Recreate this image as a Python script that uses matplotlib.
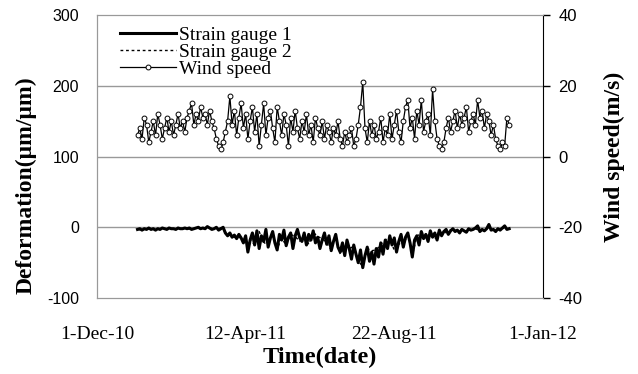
import numpy as np
import pandas as pd
import matplotlib
matplotlib.use('Agg')
import matplotlib.pyplot as plt
import matplotlib.dates as mdates

plt.rcParams['axes.unicode_minus'] = False

# readings every 2 days, 6-Jan-2011 .. 2-Dec-2011
dates = pd.date_range('2011-01-06', periods=166, freq='2D')
dates2 = pd.date_range('2011-01-06', periods=83, freq='4D')

wind = [6, 8, 5, 11, 9, 4, 7, 10, 6, 12,
        9, 5, 8, 11, 7, 10, 6, 9, 12, 8,
        10, 7, 11, 13, 15, 9, 12, 10, 14, 11,
        12, 9, 13, 10, 8, 5, 3, 2, 4, 7,
        10, 17, 9, 13, 6, 11, 15, 8, 12, 5,
        10, 14, 7, 12, 3, 9, 15, 6, 11, 13,
        8, 4, 14, 10, 6, 12, 9, 3, 11, 7,
        13, 8, 5, 10, 7, 12, 6, 9, 4, 11,
        8, 6, 10, 5, 9, 7, 4, 8, 6, 10,
        5, 3, 7, 4, 6, 8, 3, 5, 9, 14,
        21, 8, 4, 10, 6, 9, 5, 7, 11, 4,
        8, 6, 12, 5, 9, 13, 7, 4, 10, 14,
        16, 8, 11, 5, 13, 9, 16, 7, 10, 12,
        6, 19, 10, 5, 3, 2, 4, 8, 11, 7,
        10, 13, 8, 12, 9, 11, 14, 7, 10, 12,
        9, 16, 11, 13, 8, 12, 10, 6, 9, 5,
        3, 2, 4, 3, 11, 9]

strain1 = [-3, -2, -4, -2, -3, -1, -3, -2, -4, -2,
           -3, -1, -2, -3, -1, -2, -2, -3, -1, -2,
           -2, -1, -2, -1, -3, -2, -1, 0, -2, -1,
           -2, 1, -1, -3, -2, 0, -4, -2, 0, -8,
           -12, -8, -14, -11, -16, -10, -15, -22, -12, -35,
           -18, -8, -25, -5, -30, -12, -20, -3, -28, -15,
           -6, -22, -32, -10, -18, -4, -26, -14, -8, -30,
           -12, -3, -15, -20, -8, -25, -10, -18, -5, -22,
           -14, -30, -18, -8, -24, -12, -33, -20, -10, -28,
           -35, -22, -40, -18, -30, -45, -25, -38, -50, -32,
           -57, -40, -28, -48, -35, -52, -30, -42, -22, -38,
           -18, -30, -12, -25, -15, -35, -20, -10, -28, -14,
           -8, -22, -42, -18, -12, -25, -6, -16, -10, -20,
           -5, -14, -8, -18, -4, -12, -6, -3, -10, -5,
           -2, -6, -4, -8, -3, -5, -7, -2, -4, -3,
           -1, 2, -6, -3, -5, -2, 4, -4, -3, -6,
           -2, -4, -1, 2, -3, -2]

strain2 = [-3, -4, -2, -3, -4, -3, -2, -2, -2, -2,
           -2, -2, -3, -1, -2, -2, -1, -2, 0, -3,
           -10, -13, -15, -14, -14, -17, -25, -6, -21, -26,
           -8, -30, -16, -25, -10, -13, -20, -10, -24, -7,
           -13, -16, -22, -32, -12, -38, -28, -30, -27, -48,
           -55, -30, -33, -32, -24, -18, -14, -33, -23, -26,
           -9, -40, -13, -7, -12, -6, -17, -5, -10, -4,
           -3, -5, -3, -7, -4, -2, -5, -3, -1, -4,
           -3, -1, -3]

xticks = ['2010-12-01', '2011-04-12', '2011-08-22', '2012-01-01']

serif = 'Liberation Serif'
sans = 'Liberation Sans'

fig = plt.figure(figsize=(6.38, 3.74), dpi=100)
ax = fig.add_axes([0.152, 0.203, 0.699, 0.757])
ax2 = ax.twinx()

l2, = ax.plot(dates2, strain2, color='black', lw=1, ls=(0, (2, 2)), zorder=2)
l1, = ax.plot(dates, strain1, color='black', lw=2.2, zorder=3)
l3, = ax2.plot(dates, wind, color='black', lw=0.9, marker='o', ms=3.5,
               mfc='white', mec='black', mew=0.7)

ax.set_ylim(-100, 300)
ax.set_yticks([-100, 0, 100, 200, 300])
ax2.set_ylim(-40, 40)
ax2.set_yticks([-40, -20, 0, 20, 40])
ax.set_xlim(pd.Timestamp(xticks[0]), pd.Timestamp(xticks[-1]))
ax.set_xticks([pd.Timestamp(d) for d in xticks])
ax.xaxis.set_major_formatter(mdates.DateFormatter('%-d-%b-%y'))

for y in [0, 100, 200]:
    ax.axhline(y, color='#999999', lw=1, zorder=1)

for s in ['left', 'top', 'bottom']:
    ax.spines[s].set_color('#999999')
    ax2.spines[s].set_color('#999999')
ax2.spines['right'].set_color('black')
ax.spines['right'].set_visible(False)

ax.tick_params(axis='y', length=0, pad=13, labelsize=11.5)
ax.tick_params(axis='x', length=0, pad=20, labelsize=14)
ax2.tick_params(axis='y', length=5, width=1, pad=6, labelsize=12)
for t in ax.get_yticklabels() + ax2.get_yticklabels():
    t.set_family(sans)
for t in ax.get_xticklabels():
    t.set_family(serif)

ax.set_ylabel('Deformation(\u03bcm/\u03bcm)', family=serif, fontweight='bold',
              fontsize=17, labelpad=10)
ax.yaxis.set_label_coords(-0.136, 0.40)
ax2.set_ylabel('Wind speed(m/s)', family=serif, fontweight='bold',
               fontsize=17, labelpad=14)
ax2.yaxis.set_label_coords(1.137, 0.50)
ax.set_xlabel('Time(date)', family=serif, fontweight='bold', fontsize=17.5,
              labelpad=3)

ax.legend([l1, l2, l3], ['Strain gauge 1', 'Strain gauge 2', 'Wind speed'],
          loc='upper left', frameon=False, prop={'family': serif, 'size': 14},
          handlelength=2.9, handletextpad=0.15, labelspacing=-0.05,
          borderaxespad=0.2, bbox_to_anchor=(0.025, 1.0))

fig.savefig('out.png', dpi=100)
